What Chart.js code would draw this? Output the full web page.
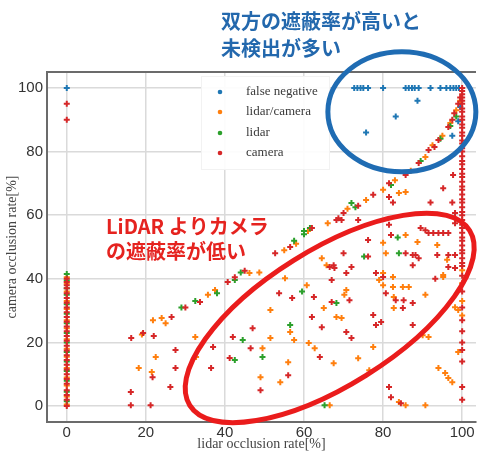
<!DOCTYPE html>
<html><head><meta charset="utf-8">
<script src="https://cdn.jsdelivr.net/npm/chart.js@4.4.0/dist/chart.umd.min.js"></script>
<style>html,body{margin:0;padding:0;background:#fff;}#wrap{width:482px;height:453px;position:relative;}</style>
</head><body><div id="wrap"><canvas id="c" width="482" height="453"></canvas></div>
<script>
const xTicks = [0, 20, 40, 60, 80, 100];
const yTicks = [0, 20, 40, 60, 80, 100];
const seriesNames = ['false negative', 'lidar/camera', 'lidar', 'camera'];
const seriesColors = ['#1f77b4', '#ff7f0e', '#2ca02c', '#d62728'];
const xAxisTitle = 'lidar occlusion rate[%]';
const yAxisTitle = 'camera occlusion rate[%]';
const noteBlue = ['双方の遮蔽率が高いと', '未検出が多い'];
const noteRed = ['LiDAR よりカメラ', 'の遮蔽率が低い'];

// [lidar %, camera %]
const falseNegative = [
  [0,100],[72.7,100],[73.5,100],[74.3,100],[75,100],[76.2,100],[80,100],[85.7,100],[86.5,100],
  [87.3,100],[88,100],[89,100],[92,100],[94.5,100],[96,100],[97,100],[97.8,100],[98.5,100],[99.2,100],
  [88.7,96],[83.2,91],[75.7,86],[99.5,94],[99,89.5],[97.5,85]
];
const lidarCamera = [
  [0,0.5],[0,3],[0,6.5],[0,9],[0,12],[0,15.5],[0,18],[0,21],[0,24.5],[0,27],[0,30.5],[0,33],[0,36],[0,38.5],[0,40.5],
  [19,22.5],[21.8,27],[24,27.7],[25,26],[35.7,35],[37.5,36.5],[46.2,41.8],[48.7,42],[55,49],[58,51],[61,55],
  [66,57.5],[71,62],[75.7,64.8],[80,68],[83,71],[87,74],[90.7,78.3],[92.5,82],[95,85],[97,89],[98.5,93],[99.5,96],
  [18.2,12],[21.5,10.7],[22.5,15.4],[32.7,15.4],[32.5,21.7],
  [51.5,30.2],[51.5,21.4],[49.5,18.2],[56.5,23.3],[57.5,20.8],[56,13.8],[49,9.1],[54,7.5],[61.2,19.8],[62.7,18.2],
  [67.5,13.5],[65,30.8],[68.2,28],[69.5,27.7],[70.2,35],[80,41.8],[79,39.6],[80,38],[70.7,36.5],[77.5,18.6],
  [73.7,15],[76.5,11.3],[82.5,37.4],[85,37.4],[86.5,37.4],[82.7,34.3],[82.7,30.8],[90,22.3],[91.5,21.7],[94,12],
  [95.7,10.4],[96.5,8.8],[97.5,7.5],[98.2,31.1],[99,30.2],[90.7,35],[95.2,40.6],[84,1.3],[85.7,0.3],[90.7,0.3],
  [66.5,0.3],[100,38.6],[100,42.7],[84,67],[85.7,67.3],[85.7,53.8],[88.7,51.6],[80,51.3],[93.7,50.6],[80.7,48],
  [64.5,46.5],[82.5,40.6],[95.2,41.2],[96.2,46],[60.7,38],[55.2,40.2],[65.7,44.3],[100,33],[100,28.5],[99,17]
];
const lidar = [
  [0,1.5],[0,4.5],[0,8],[0,11],[0,14],[0,17],[0,20],[0,23],[0,26],[0,29],[0,32],[0,35],[0,37],[0,39.5],[0,41.5],
  [29,31],[32.5,33],[38,35.5],[42.5,39.6],[44,42],[57.5,52],[60,54],[61.5,56],[72,63.8],[73,62.5],[82,69.5],
  [89.5,77],[94.5,84],[97,88],[98.5,91],
  [42.5,14.5],[59.5,36],[44.5,20.8],[49.5,15.4],[56.5,25.5],[68.2,32.4],[65.2,0.3],[83.7,53],[84,48],[75.2,47],[60,55]
];
const camera = [
  [0,0],[0,2],[0,3.5],[0,5],[0,7],[0,8.5],[0,10],[0,11.5],[0,13],[0,14.5],[0,16],[0,17.5],[0,19],[0,20.5],
  [0,22],[0,23.5],[0,25],[0,26.5],[0,28],[0,29.5],[0,31],[0,32.5],[0,34],[0,35.5],[0,37],[0,38],[0,39],[0,40],
  [0,95],[0,90],
  [16.3,21.4],[19.3,23],[22,22],[26.5,28],[30,31],[33.7,32.7],[40.7,39],[42.5,40.5],[45,42.5],[52.7,48],[56.5,50],
  [62,56],[68.7,59],[70,60.7],[73.7,63],[77.5,66.4],[81.5,70],[85.7,72.6],[89,76.4],[91.5,80.5],[93,81.4],
  [94,83.6],[96.5,87.7],[97.5,90],[98,92],[99,95],[99.5,97],
  [16.2,4.4],[16.2,0.3],[21.2,0.3],[21.7,9.1],[26.2,6],[27.5,12],[27.5,17.6],[36.5,12],[37,18.6],[42,21.7],[41.2,15.1],
  [53.7,35.5],[62.5,34.3],[57,34],[47,24.5],[46.5,18.2],[56,9.7],[49,5],[64,15.4],[62,28],[64.5,24.8],[67,32.7],
  [71.5,33.3],[72,21.4],[70.7,23.3],[70.7,41.8],[67,39.6],[67.5,44.3],[77.5,28.6],[79.5,26.4],[78.2,25.5],[78.2,41.8],
  [80.7,35.5],[83.2,33.3],[85.2,33.3],[87.5,32.4],[85,30.8],[87.5,25.5],[93.7,47.5],[96.5,47.5],[98.2,47.5],[88.2,47.5],
  [93.2,40],[96.5,43.7],[98.2,43.4],[81.5,6],[82,2.8],[84.5,0.9],[68.2,58.5],[69.5,58.5],[73.7,58.5],[81.5,57],
  [82.5,64],[81.5,65.7],[92,64],[95.2,68.5],[97.7,72.6],[97.5,64],[98.2,60.7],[98.2,57.5],[90.7,55.3],[91.5,54.4],
  [92.7,54.4],[94,54.4],[95.2,54.4],[96.5,54.4],[89.5,56],[82,53.8],[76.2,52.2],[85.7,48],[87.5,47.5],[89,46.5],
  [70,48],[66.5,43.7],[67.7,43.4],[72,43.7],[80,40.6],[87.5,44.3],[76.2,47],
  [100,100],[100,99],[100,98],[100,97],[100,96],[100,95],[100,93.5],[100,92.5],[100,91],[100,90],[100,88.5],
  [100,87.5],[100,86],[100,85],[100,83.5],[100,82.5],[100,81],[100,80],[100,78.5],[100,77],[100,76],[100,74.5],
  [100,73],[100,72],[100,70.5],[100,69],[100,68],[100,66.5],[100,65],[100,64],[100,62.5],[100,61],[100,60],
  [100,58.5],[100,57],[100,56],[100,54.5],[100,53],[100,52],[100,50.5],[100,49],[100,48],[100,46.5],[100,45],
  [100,44],[100,41],[100,36],[100,31],[100,27],[100,23.5],[100,20],[100,17.6],[100,14],[100,6],[100,2]
];
const seriesData = [falseNegative, lidarCamera, lidar, camera];

const toPts = arr => arr.map(p => ({x: p[0], y: p[1]}));

const overlay = {
  id: 'overlay',
  afterDraw(chart) {
    const ctx = chart.ctx, ca = chart.chartArea;
    const xs = chart.scales.x, ys = chart.scales.y;
    ctx.save();
    // top frame line
    ctx.strokeStyle = '#6b6b6b'; ctx.lineWidth = 2;
    ctx.beginPath(); ctx.moveTo(ca.left, ca.top); ctx.lineTo(ca.right, ca.top); ctx.stroke();
    // legend box
    ctx.fillStyle = 'rgba(255,255,255,0.92)';
    ctx.strokeStyle = '#f2f2f2'; ctx.lineWidth = 1;
    ctx.fillRect(201, 76, 128, 93); ctx.strokeRect(201.5, 76.5, 128, 93);
    const ly = [92, 112, 133, 153];
    ctx.font = '13px "Liberation Serif", serif';
    ctx.textBaseline = 'middle'; ctx.textAlign = 'left';
    chart.data.datasets.forEach((ds, i) => {
      ctx.fillStyle = ds.borderColor;
      ctx.beginPath(); ctx.arc(220, ly[i], 2.3, 0, Math.PI * 2); ctx.fill();
      ctx.fillStyle = '#3a3a3a';
      ctx.fillText(ds.label, 246, ly[i]);
    });
    // ellipses
    ctx.lineWidth = 5;
    ctx.strokeStyle = '#1f6cb3';
    ctx.beginPath();
    ctx.ellipse(xs.getPixelForValue(84.75), ys.getPixelForValue(92.5), 74, 60, 0, 0, Math.PI * 2);
    ctx.stroke();
    ctx.strokeStyle = '#ea1c1c';
    ctx.beginPath();
    ctx.ellipse(xs.getPixelForValue(66.5), ys.getPixelForValue(27.7), 165, 68, -32 * Math.PI / 180, 0, Math.PI * 2);
    ctx.stroke();
    // notes
    ctx.font = 'bold 20px "Noto Sans CJK JP", sans-serif';
    ctx.textBaseline = 'middle';
    ctx.fillStyle = '#2368ad';
    ctx.fillText(noteBlue[0], 221, 21);
    ctx.fillText(noteBlue[1], 221, 48);
    ctx.fillStyle = '#e5231f';
    ctx.fillText(noteRed[0], 106, 226);
    ctx.fillText(noteRed[1], 106, 251);
    ctx.restore();
  }
};

new Chart(document.getElementById('c'), {
  type: 'scatter',
  data: {
    datasets: seriesNames.map((n, i) => ({
      label: n,
      data: toPts(seriesData[i]),
      borderColor: seriesColors[i],
      backgroundColor: seriesColors[i],
      pointStyle: 'cross',
      pointRadius: 3,
      pointBorderWidth: 2,
      order: 4 - i
    }))
  },
  options: {
    responsive: false,
    devicePixelRatio: 1,
    animation: false,
    layout: {padding: {top: 72, right: 1, left: 0, bottom: 0}},
    plugins: {legend: {display: false}, tooltip: {enabled: false}},
    scales: {
      x: {
        type: 'linear', min: -5, max: 103.5,
        afterBuildTicks: s => { s.ticks = xTicks.map(v => ({value: v})); },
        afterFit: s => { s.height = 31; },
        grid: {color: '#dadada', lineWidth: 1.5, drawTicks: false},
        border: {display: true, color: '#6b6b6b', width: 2},
        ticks: {color: '#333', padding: 2, font: {family: '"Liberation Sans", Arial, sans-serif', size: 15}},
        title: {display: true, text: xAxisTitle, color: '#444', padding: {top: 0, bottom: 0},
                font: {family: '"Liberation Serif", serif', size: 14}}
      },
      y: {
        type: 'linear', min: -5, max: 105,
        afterBuildTicks: s => { s.ticks = yTicks.map(v => ({value: v})); },
        afterFit: s => { s.width = 47; },
        grid: {color: '#dadada', lineWidth: 1.5, drawTicks: false},
        border: {display: true, color: '#6b6b6b', width: 2},
        ticks: {color: '#333', padding: 4, font: {family: '"Liberation Sans", Arial, sans-serif', size: 15}},
        title: {display: true, text: yAxisTitle, color: '#444', padding: {top: 4, bottom: 0},
                font: {family: '"Liberation Serif", serif', size: 14}}
      }
    }
  },
  plugins: [overlay]
});
</script></body></html>
